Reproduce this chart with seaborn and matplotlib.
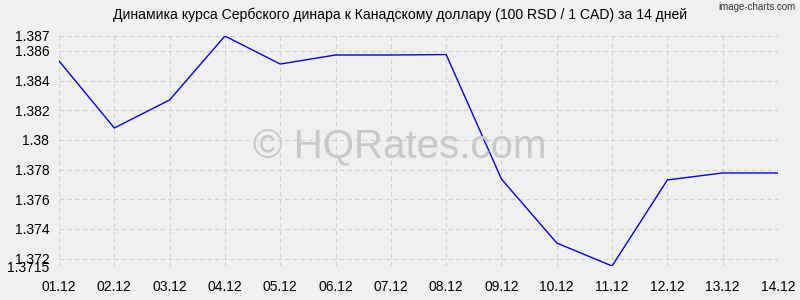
import matplotlib
matplotlib.use("Agg")
import matplotlib.pyplot as plt
import seaborn as sns
import pandas as pd

dates = ["01.12", "02.12", "03.12", "04.12", "05.12", "06.12", "07.12",
         "08.12", "09.12", "10.12", "11.12", "12.12", "13.12", "14.12"]
rates = [1.38532, 1.3808, 1.38269, 1.3870, 1.38511, 1.38572, 1.38572,
         1.38575, 1.37736, 1.37305, 1.3715, 1.3773, 1.37777, 1.37777]
yticks = [1.3715, 1.372, 1.374, 1.376, 1.378, 1.38, 1.382, 1.384, 1.386, 1.387]
ytick_labels = ["1.3715", "1.372", "1.374", "1.376", "1.378", "1.38", "1.382",
                "1.384", "1.386", "1.387"]
title = "Динамика курса Сербского динара к Канадскому доллару (100 RSD / 1 CAD) за 14 дней"

sns.set_theme(style="whitegrid")
plt.rcParams['font.family'] = ['Liberation Sans', 'DejaVu Sans']

bg = "#f0f0f0"
fig = plt.figure(figsize=(8, 3), dpi=100, facecolor=bg)
ax = fig.add_axes([0.07375, 0.1133, 0.89875, 0.7667])
ax.set_facecolor(bg)

df = pd.DataFrame({"x": range(len(dates)), "rate": rates})
sns.lineplot(data=df, x="x", y="rate", ax=ax, color="#0000ff", linewidth=1)

ax.set_xlim(0, len(dates) - 1)
ax.set_ylim(1.3715, 1.387)
ax.set_xticks(range(len(dates)))
ax.set_xticklabels(dates)
ax.set_yticks(yticks)
ax.set_yticklabels(ytick_labels)
ax.set_xlabel("")
ax.set_ylabel("")

ax.grid(True, color="#d0d0d0", linestyle=(0, (4, 3)), linewidth=0.8)
for s in ax.spines.values():
    s.set_visible(False)
ax.tick_params(axis="both", labelsize=10, colors="#000000", length=0)
ax.tick_params(axis="y", pad=7)
ax.tick_params(axis="x", pad=10)

fig.text(0.5, 0.51, "© HQRates.com", ha="center", va="center",
         fontsize=29, color="#c8c8c8", zorder=0)

fig.text(0.5, 0.975, title, ha="center", va="top", fontsize=10.1, color="#000000")
fig.text(0.995, 0.995, "image-charts.com", ha="right", va="top", fontsize=7, color="#333333")

fig.savefig("out.png", dpi=100, facecolor=bg)
